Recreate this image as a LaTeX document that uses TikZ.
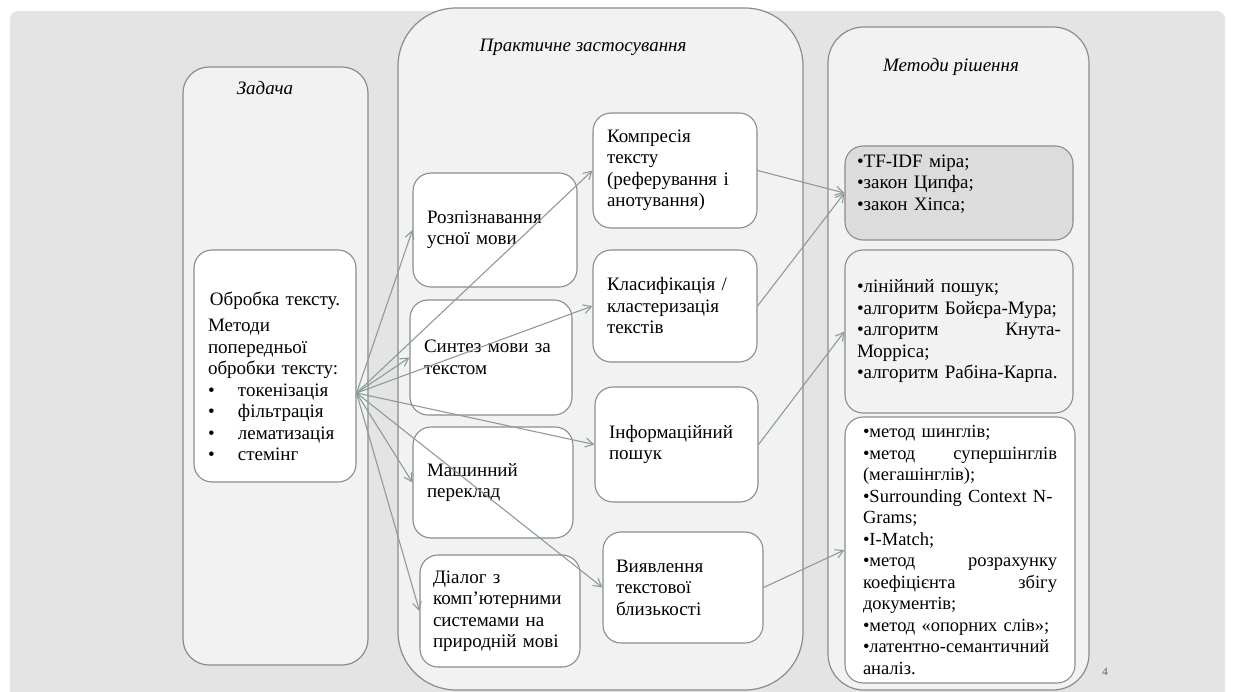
\documentclass[tikz,border=0pt]{standalone}
\usepackage{fontspec}
\setmainfont{Liberation Serif}
\usetikzlibrary{positioning, arrows.meta}
\definecolor{slidebg}{HTML}{E4E4E4}
\definecolor{panelgray}{HTML}{F2F2F2}
\definecolor{darkpanel}{HTML}{DCDCDC}
\definecolor{edgegray}{HTML}{8C8C8C}
\definecolor{arrowgreen}{HTML}{8A9E94}
\newcommand{\txtsize}{\fontsize{19}{21.5}\selectfont}

\begin{document}
\begin{tikzpicture}[x=1pt, y=-1pt,
	panel/.style={draw=edgegray, line width=1.2pt, fill=panelgray, inner sep=0pt},
	box/.style={draw=edgegray, line width=1.1pt, fill=white, rounded corners=18pt,
		inner xsep=14pt, inner ysep=0pt, align=left, font=\txtsize},
	heading/.style={font=\txtsize\itshape},
	link/.style={draw=arrowgreen, line width=1.1pt, -{Straight Barb[length=8pt, width=9pt]}}]
	\useasboundingbox (0,0) rectangle (1233,692);
	\fill[slidebg, rounded corners=8pt] (10,11) rectangle (1225,730);
	\node[panel, rounded corners=26pt, minimum width=185pt, minimum height=598pt] (zadacha) at (275.5,366) {};
	\node[panel, rounded corners=58pt, minimum width=405pt, minimum height=682pt] (praktyka) at (600.5,349) {};
	\node[panel, rounded corners=36pt, minimum width=261pt, minimum height=663pt] (metody) at (958.5,358.5) {};
	\node[heading] (zadacha-title) at (265,88) {Задача};
	\node[heading] (praktyka-title) at (583,47) {Практичне застосування};
	\node[heading] (metody-title) at (951,67) {Методи рішення};
	\node[box, text width=134pt, minimum height=232pt] (obrobka) at (275,366) {%
		\makebox[134pt][c]{\rule{0pt}{34pt}Обробка тексту.}\\[5pt]
		Методи\\
		попередньої\\
		обробки тексту:\\
		\makebox[30pt][l]{•}токенізація\\
		\makebox[30pt][l]{•}фільтрація\\
		\makebox[30pt][l]{•}лематизація\\
		\makebox[30pt][l]{•}стемінг};
	\node[box, text width=136pt, minimum height=114pt] (rozpiz) at (495,230) {Розпізнавання\\усної мови};
	\node[box, text width=134pt, minimum height=115pt] (syntez) at (491,357.5) {Синтез мови за\\текстом};
	\node[box, text width=132pt, minimum height=111pt] (mashyn) at (493,482.5) {Машинний\\переклад};
	\node[box, inner xsep=13pt, text width=134pt, minimum height=112pt] (dialog) at (500,611) {Діалог з\\комп’ютерними\\системами на\\природній мові};
	\node[box, text width=136pt, minimum height=115pt] (kompres) at (675,170.5) {Компресія\\тексту\\(реферування і\\анотування)};
	\node[box, text width=136pt, minimum height=112pt] (klasyf) at (675,306) {Класифікація /\\кластеризація\\текстів};
	\node[box, text width=135pt, minimum height=115pt] (inform) at (676.5,444.5) {Інформаційний\\пошук};
	\node[box, inner xsep=13pt, text width=134pt, minimum height=111pt] (vyjavl) at (683,587.5) {Виявлення\\текстової\\близькості};
	\node[box, fill=darkpanel, inner xsep=12pt, text width=204pt, minimum height=94pt] (tfidf) at (959,193) {%
		•TF-IDF міра;\\
		•закон Ципфа;\\
		•закон Хіпса;\\
		\mbox{}};
	\node[box, fill=panelgray, inner xsep=12pt, text width=204pt, minimum height=163pt] (linij) at (959,331.5) {%
		•лінійний пошук;\\
		•алгоритм Бойєра-Мура;\\
		•алгоритм\hfill Кнута-\\
		Морріса;\\
		•алгоритм Рабіна-Карпа.};
	\node[box, inner xsep=18pt, text width=194pt, minimum height=266pt,
		font=\fontsize{18.5}{21.5}\selectfont] (shingl) at (960,550) {%
		•метод шинглів;\\
		•метод\hfill супершінглів\\
		(мегашінглів);\\
		\mbox{•Surrounding Context N-}\\
		Grams;\\
		•I-Match;\\
		•метод\hfill розрахунку\\
		коефіцієнта\hfill збігу\\
		документів;\\
		•метод «опорних слів»;\\
		•латентно-семантичний\\
		аналіз.};
	\coordinate (hub) at ([yshift=-27pt]obrobka.east);
	\foreach \target in {rozpiz, kompres, syntez, klasyf, inform, mashyn, vyjavl, dialog}
		\draw[link] (hub) -- (\target.west);
	\draw[link] (kompres.east) -- (tfidf.west);
	\draw[link] (klasyf.east) -- (tfidf.west);
	\draw[link] (inform.east) -- (linij.west);
	\draw[link] (vyjavl.east) -- (shingl.west);
	\node[font=\fontsize{11}{13}\selectfont, text=black!65] (pagenum) at (1105,672) {4};
\end{tikzpicture}
\end{document}
